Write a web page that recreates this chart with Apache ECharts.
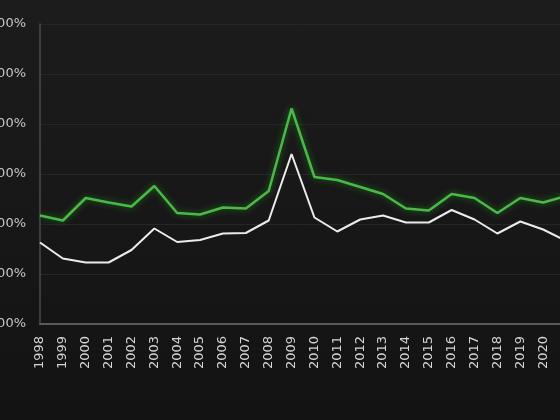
<!DOCTYPE html>
<html>
<head>
<meta charset="utf-8">
<script src="https://cdn.jsdelivr.net/npm/echarts@6/dist/echarts.min.js"></script>
<style>
  html, body { margin: 0; padding: 0; background: #181818; }
  #chart { width: 560px; height: 420px; }
</style>
</head>
<body>
<div id="chart"></div>
<script>
  // years on the x axis
  var years = ['1998', '1999', '2000', '2001', '2002', '2003', '2004', '2005', '2006', '2007', '2008', '2009',
    '2010', '2011', '2012', '2013', '2014', '2015', '2016', '2017', '2018', '2019', '2020', '2021'];

  // upper (green) line, in percent
  var greenValues = [2.17, 2.07, 2.52, 2.43, 2.35, 2.76, 2.22, 2.19, 2.33, 2.31, 2.66, 4.31,
    2.94, 2.88, 2.74, 2.60, 2.31, 2.27, 2.60, 2.52, 2.22, 2.52, 2.43, 2.56];

  // lower (white) line, in percent
  var whiteValues = [1.63, 1.31, 1.23, 1.23, 1.48, 1.91, 1.64, 1.68, 1.81, 1.82, 2.07, 3.40,
    2.13, 1.85, 2.09, 2.17, 2.03, 2.03, 2.28, 2.09, 1.81, 2.05, 1.89, 1.66];

  var yTicks = ['0.00%', '1.00%', '2.00%', '3.00%', '4.00%', '5.00%', '6.00%'];

  var chart = echarts.init(document.getElementById('chart'));
  chart.setOption({
    backgroundColor: {
      type: 'linear', x: 0, y: 0, x2: 0, y2: 1,
      colorStops: [{ offset: 0, color: '#1c1c1c' }, { offset: 1, color: '#131313' }]
    },
    animation: false,
    grid: { left: 40, right: -6, top: 24, bottom: 96, containLabel: false, outerBoundsMode: 'none' },
    xAxis: {
      type: 'category',
      boundaryGap: false,
      data: years,
      axisLine: { lineStyle: { color: '#5a5a5a', width: 2 } },
      axisTick: { show: false },
      axisLabel: { rotate: 90, color: '#d4d4d4', fontSize: 13, margin: 12, fontFamily: 'DejaVu Sans' }
    },
    yAxis: {
      type: 'value',
      min: 0,
      max: 6,
      interval: 1,
      axisLine: { show: true, lineStyle: { color: '#4a4a4a', width: 1.5 } },
      axisTick: { show: false },
      splitLine: { lineStyle: { color: '#262626' } },
      axisLabel: {
        color: '#c8c8c8', fontSize: 13, margin: 14, fontFamily: 'DejaVu Sans',
        formatter: function (v) { return yTicks[v]; }
      }
    },
    series: [{
      name: 'green',
      type: 'line',
      data: greenValues,
      symbol: 'none',
      lineStyle: { color: '#4cb848', width: 2.5, shadowColor: '#1f7a1f', shadowBlur: 6 }
    }, {
      name: 'white',
      type: 'line',
      data: whiteValues,
      symbol: 'none',
      lineStyle: { color: '#ececec', width: 2 }
    }]
  });
</script>
</body>
</html>
